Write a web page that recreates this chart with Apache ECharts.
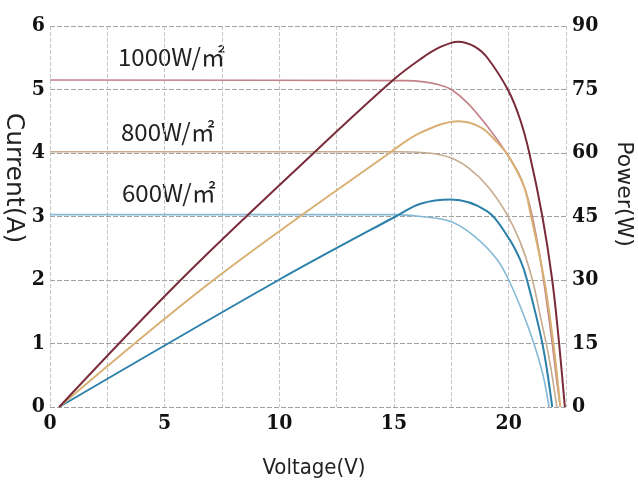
<!DOCTYPE html>
<html>
<head>
<meta charset="utf-8">
<script src="https://cdn.jsdelivr.net/npm/echarts@6/dist/echarts.min.js"></script>
<style>
html, body { margin: 0; padding: 0; background: #fff; }
#chart { width: 638px; height: 484px; }
</style>
</head>
<body>
<div id="chart"></div>
<script>
// I-V curves (Voltage V, Current A)
const current1000 = [[0, 5.15], [15.5, 5.14], [16.3, 5.12], [17.0, 5.07], [17.5, 5.0], [18.2, 4.79], [19.07, 4.42], [19.9, 4.0], [20.5, 3.63], [20.9, 3.2], [21.3, 2.5], [21.6, 1.8], [21.9, 1.0], [22.1, 0.4], [22.25, 0]]
const current800 = [[0, 4.02], [15, 4.02], [16.5, 4.0], [17.5, 3.92], [18.3, 3.75], [19.1, 3.47], [19.9, 3.05], [20.5, 2.6], [21.0, 2.05], [21.4, 1.4], [21.8, 0.7], [22.1, 0]]
const current600 = [[0, 3.03], [15, 3.03], [16.16, 3.0], [17.47, 2.92], [18.5, 2.69], [19.5, 2.32], [20.0, 2.0], [20.6, 1.5], [21.1, 1.0], [21.5, 0.5], [21.76, 0]]

// P-V curves (Voltage V, Power W)
const power1000 = [[0.4, 0], [5.7, 30], [11.5, 60], [15, 77.4], [16.16, 82.2], [17, 85], [17.8, 86.3], [18.5, 85.2], [19.07, 82.5], [20, 74.6], [20.5, 67.9], [20.9, 60], [21.47, 45], [21.9, 30], [22.2, 15], [22.45, 0]]
const power800 = [[0.4, 0], [7.13, 30], [14.8, 60], [16.16, 64.8], [17.83, 67.5], [18.8, 66], [19.5, 62.5], [20, 59.2], [20.67, 52.1], [20.96, 45.5], [21.55, 30], [21.95, 15], [22.25, 0]]
const power600 = [[0.4, 0], [9.97, 30], [15.07, 45], [16.16, 48], [17.47, 49], [19.07, 46.2], [20, 39.9], [20.5, 34.8], [20.8, 30], [21.47, 15], [21.9, 0]]

const irradianceLabels = ['1000W/㎡', '800W/㎡', '600W/㎡']

const tickFont = {
  fontFamily: 'DejaVu Serif Condensed',
  fontWeight: 'bold',
  fontSize: 21,
  color: '#111',
}

function lineSeries(name, data, color, width, yAxisIndex) {
  return {
    name: name,
    type: 'line',
    data: data,
    yAxisIndex: yAxisIndex,
    showSymbol: false,
    smooth: 0.35,
    lineStyle: { color: color, width: width },
  }
}

const chart = echarts.init(document.getElementById('chart'))
chart.setOption({
  backgroundColor: '#fff',
  animation: false,
  grid: { left: 50, right: 72, top: 26, bottom: 77 },
  xAxis: {
    type: 'value',
    min: 0,
    max: 22.5,
    interval: 2.5,
    axisLine: { show: false },
    axisTick: { show: false },
    axisLabel: {
      ...tickFont,
      margin: 6,
      formatter: v => (v % 5 === 0 ? String(v) : ''),
    },
    splitLine: { show: true, lineStyle: { color: '#c4c4c4', type: [4, 2], width: 1 } },
  },
  yAxis: [
    {
      type: 'value',
      min: 0,
      max: 6,
      interval: 1,
      axisLine: { show: false },
      axisTick: { show: false },
      axisLabel: { ...tickFont, margin: 5 },
      splitLine: { show: true, lineStyle: { color: '#a0a0a0', type: [5, 2], width: 1 } },
    },
    {
      type: 'value',
      min: 0,
      max: 90,
      interval: 15,
      position: 'right',
      axisLine: { show: false },
      axisTick: { show: false },
      axisLabel: { ...tickFont, margin: 6 },
      splitLine: { show: false },
    },
  ],
  graphic: [
    {
      type: 'text', left: 118, top: 45,
      style: { text: irradianceLabels[0], font: '24px "Liberation Sans Narrow", "Noto Sans CJK SC"', fill: '#222' },
    },
    {
      type: 'text', left: 121, top: 120,
      style: { text: irradianceLabels[1], font: '24px "Liberation Sans Narrow", "Noto Sans CJK SC"', fill: '#222' },
    },
    {
      type: 'text', left: 122, top: 181,
      style: { text: irradianceLabels[2], font: '24px "Liberation Sans Narrow", "Noto Sans CJK SC"', fill: '#222' },
    },
    {
      type: 'text', x: 13, y: 178, rotation: -Math.PI / 2,
      style: { text: 'Current(A)', font: '25px "DejaVu Sans"', fill: '#222', align: 'center', verticalAlign: 'middle' },
    },
    {
      type: 'text', x: 624, y: 194, rotation: -Math.PI / 2,
      style: { text: 'Power(W)', font: '22px "DejaVu Sans"', fill: '#222', align: 'center', verticalAlign: 'middle' },
    },
    {
      type: 'text', x: 314, y: 468,
      style: { text: 'Voltage(V)', font: '22px "DejaVu Sans Condensed"', fill: '#222', align: 'center', verticalAlign: 'middle' },
    },
  ],
  series: [
    lineSeries('I 600', current600, '#86b9d6', 1.6, 0),
    lineSeries('I 800', current800, '#c6ab8e', 1.6, 0),
    lineSeries('I 1000', current1000, '#c28089', 1.6, 0),
    lineSeries('P 600', power600, '#2c80a9', 2, 1),
    lineSeries('P 800', power800, '#d9b073', 2, 1),
    lineSeries('P 1000', power1000, '#7a2b3a', 2, 1),
  ],
})
</script>
</body>
</html>
